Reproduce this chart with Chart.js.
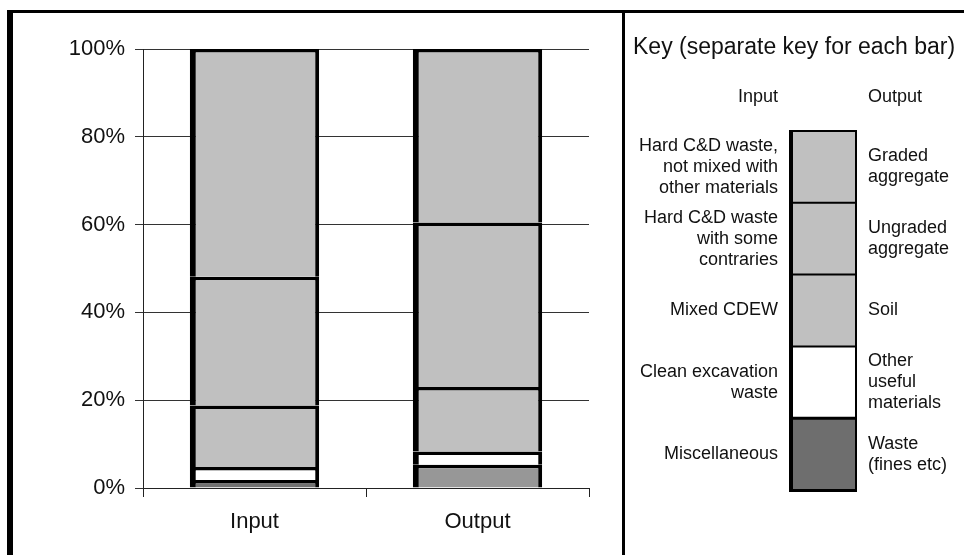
<!DOCTYPE html>
<html>
<head>
<meta charset="utf-8">
<script src="https://cdn.jsdelivr.net/npm/chart.js@4.4.1/dist/chart.umd.min.js"></script>
<style>
    body { margin: 0; background: #fff; }
    #wrap { width: 964px; height: 555px; }
</style>
</head>
<body>
<div id="wrap"><canvas id="chartFlows" width="964" height="555"></canvas></div>
<script>
// bars, bottom to top
const categories = ['Input', 'Output'];
const inputShares = [1.8, 3.0, 14.0, 29.3, 51.9];
const outputShares = [5.3, 3.0, 14.7, 37.5, 39.5];
const inputColours = ['#727272', '#ffffff', '#c0c0c0', '#c0c0c0', '#c0c0c0'];
const outputColours = ['#979797', '#ffffff', '#c0c0c0', '#c0c0c0', '#c0c0c0'];
const yTicks = [0, 20, 40, 60, 80, 100];

// key rows, top to bottom
const keyTitle = 'Key (separate key for each bar)';
const keyInput = [
    ['Hard C&D waste,', 'not mixed with', 'other materials'],
    ['Hard C&D waste', 'with some', 'contraries'],
    ['Mixed CDEW'],
    ['Clean excavation', 'waste'],
    ['Miscellaneous']
];
const keyOutput = [
    ['Graded', 'aggregate'],
    ['Ungraded', 'aggregate'],
    ['Soil'],
    ['Other', 'useful', 'materials'],
    ['Waste', '(fines etc)']
];
const keyColours = ['#c0c0c0', '#c0c0c0', '#c0c0c0', '#ffffff', '#6e6e6e'];

const FONT = '"Liberation Sans", Arial, sans-serif';

const datasets = [];
for (let i = 0; i < inputShares.length; i++) {
    datasets.push({
        label: keyInput[4 - i].join(' ') + ' / ' + keyOutput[4 - i].join(' '),
        data: [inputShares[i], outputShares[i]],
        backgroundColor: [inputColours[i], outputColours[i]],
        borderColor: '#000',
        // only the top edge of each segment, so every joint gets one line
        borderWidth: { left: 6, right: 4, top: 3.5, bottom: 0 },
        borderSkipped: false,
        inflateAmount: 0,
        stack: 'one'
    });
}

const keyPanel = {
    id: 'keyPanel',
    afterDraw(chart) {
        const ctx = chart.ctx;
        ctx.save();
        // frame
        ctx.fillStyle = '#000';
        ctx.fillRect(7, 10, 6, 545);
        ctx.fillRect(7, 10, 957, 3);
        ctx.fillRect(622, 10, 3, 545);

        ctx.fillStyle = '#111';
        ctx.textBaseline = 'middle';
        ctx.font = '23px ' + FONT;
        ctx.textAlign = 'left';
        ctx.fillText(keyTitle, 633, 48);

        ctx.font = '18px ' + FONT;
        ctx.textAlign = 'right';
        ctx.fillText('Input', 778, 97);
        ctx.textAlign = 'left';
        ctx.fillText('Output', 868, 97);

        const bx = 790, bw = 66, top = 131, rowH = 71.8, lh = 21;
        for (let i = 0; i < keyColours.length; i++) {
            const y0 = top + i * rowH;
            ctx.fillStyle = keyColours[i];
            ctx.fillRect(bx, y0, bw, rowH);
            const mid = y0 + rowH / 2;
            ctx.fillStyle = '#111';
            ctx.textAlign = 'right';
            keyInput[i].forEach((t, k) => {
                ctx.fillText(t, 778, mid + (k - (keyInput[i].length - 1) / 2) * lh);
            });
            ctx.textAlign = 'left';
            keyOutput[i].forEach((t, k) => {
                ctx.fillText(t, 868, mid + (k - (keyOutput[i].length - 1) / 2) * lh);
            });
        }
        // key outlines
        ctx.strokeStyle = '#000';
        for (let i = 1; i < keyColours.length; i++) {
            const y = top + i * rowH;
            ctx.lineWidth = (i == 4) ? 3 : 2;
            ctx.beginPath();
            ctx.moveTo(bx, y);
            ctx.lineTo(bx + bw, y);
            ctx.stroke();
        }
        ctx.lineWidth = 2;
        ctx.strokeRect(bx, top, bw, rowH * 5);
        ctx.fillStyle = '#000';
        ctx.fillRect(bx - 1, top, 4, rowH * 5);
        ctx.fillRect(bx - 1, top + rowH * 5 - 1, bw + 2, 3);
        ctx.restore();
    }
};

const config = {
    type: 'bar',
    data: {
        labels: categories,
        datasets: datasets
    },
    options: {
        responsive: false,
        animation: false,
        devicePixelRatio: 1,
        layout: {
            padding: { top: 49, right: 375, bottom: 0, left: 0 }
        },
        datasets: {
            bar: {
                categoryPercentage: 1,
                barPercentage: 0.58
            }
        },
        plugins: {
            legend: { display: false },
            tooltip: { enabled: false }
        },
        scales: {
            x: {
                stacked: true,
                afterFit: function(scale) { scale.height = 67; },
                grid: {
                    offset: true,
                    drawOnChartArea: false,
                    tickLength: 9,
                    color: '#222'
                },
                border: { color: '#222', width: 1 },
                ticks: {
                    padding: 12,
                    color: '#111',
                    font: { family: FONT, size: 22 }
                }
            },
            y: {
                stacked: true,
                min: 0,
                max: 100,
                afterFit: function(scale) { scale.width = 143; },
                afterBuildTicks: function(scale) {
                    scale.ticks = yTicks.map(v => ({ value: v }));
                },
                grid: {
                    tickLength: 8,
                    color: '#333',
                    lineWidth: 1
                },
                border: { color: '#222', width: 1 },
                ticks: {
                    padding: 10,
                    color: '#111',
                    font: { family: FONT, size: 22 },
                    callback: v => v + '%'
                }
            }
        }
    },
    plugins: [keyPanel]
};

new Chart(document.getElementById('chartFlows'), config);
</script>
</body>
</html>
